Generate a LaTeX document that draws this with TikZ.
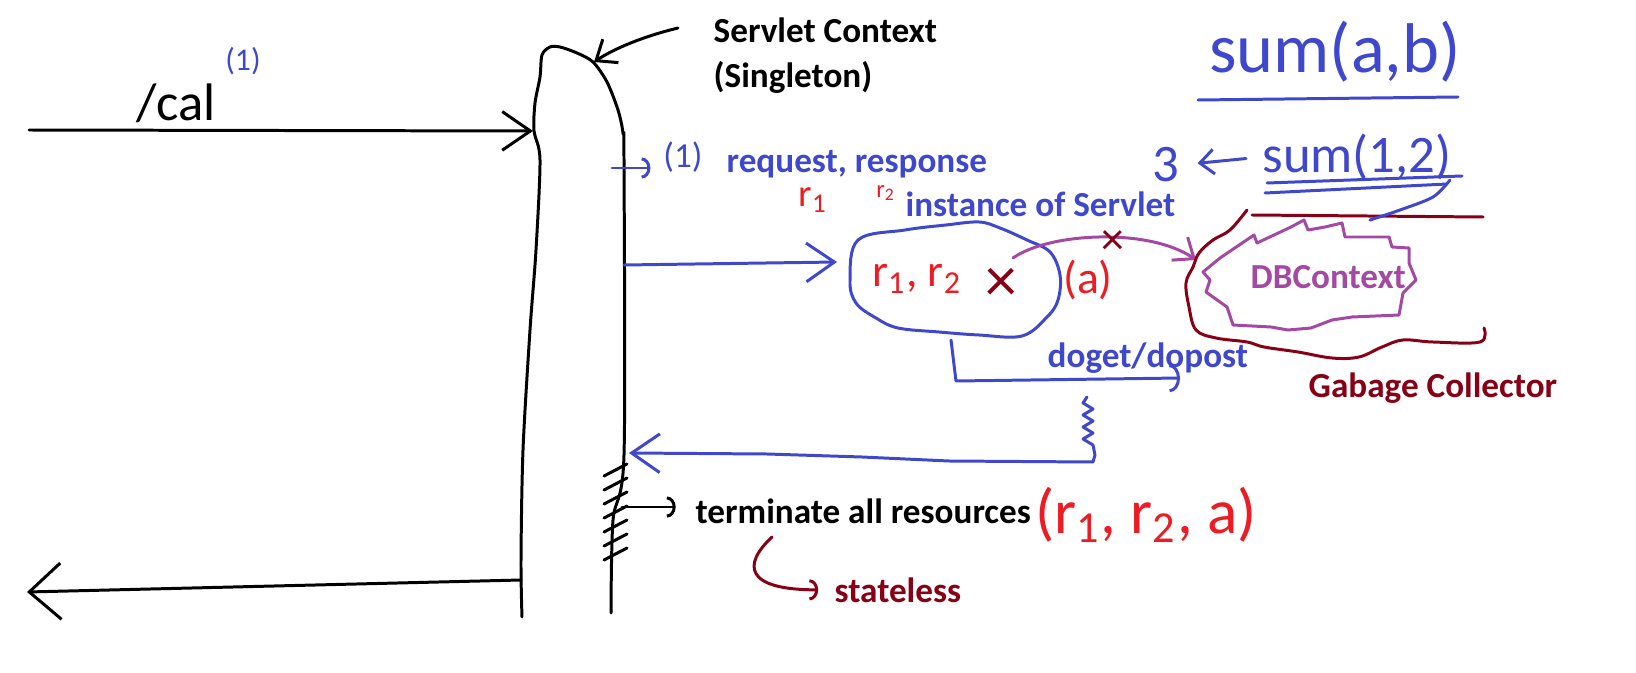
\documentclass[tikz,border=0pt]{standalone}
\usepackage{fontspec}
\setmainfont{Carlito}
\usetikzlibrary{arrows.meta, positioning}
\definecolor{inkblue}{HTML}{3F48CC}
\definecolor{inkred}{HTML}{ED1C24}
\definecolor{inkdark}{HTML}{880015}
\definecolor{inkpurple}{HTML}{A349A4}
\tikzset{
    typed text/.style={font=\fontsize{10}{12}\selectfont\bfseries, inner sep=0pt},
    hand text/.style={font=\fontsize{#1}{#1}\selectfont, inner sep=0pt},
    hand text/.default=14,
    pen/.style={line width=0.85pt, line cap=round, line join=round},
    barb/.style={-{Straight Barb[length=8pt,width=11pt]}},
    small barb/.style={-{Straight Barb[length=5pt,width=8pt]}},
    hook/.style={-{Arc Barb[length=2.5pt,width=6pt]}},
}
\newcommand{\drawcontext}{
    \draw[pen] plot[smooth, tension=0.5] coordinates {(522,617) (521,560) (523,450) (530,330) (536,250) (540,160) (534,131) (535,103) (540,77) (542,55) (550,47) (560,47) (577,53) (593,62) (607,82) (618,110) (623,133) (624,160) (624,455) (613,520) (611,613)};
}
\newcommand{\drawhatches}{
    \foreach \y in {470,484,498,512,526,540,554} {
        \draw[pen] (604,{\y+6}) -- (627,{\y-6});
    }
}

\begin{document}
\begin{tikzpicture}[x=0.01cm, y=-0.01cm]
    \useasboundingbox (0,0) rectangle (1636,673);
    \drawcontext
    \drawhatches
    \coordinate (ctx in) at (533,131);
    \coordinate (ctx top) at (594,62);
    \coordinate (ctx out) at (521,580);
    \coordinate (ctx call) at (612,168);
    \coordinate (ctx req) at (624,265);
    \coordinate (ctx back) at (629,453);
    \coordinate (ctx end) at (622,507);
    \coordinate (client in) at (29,130);
    \coordinate (client out) at (27,592);
    \coordinate (title tail) at (678,28);

    % client side
    \draw[pen, barb] (client in) -- (ctx in);
    \draw[pen, -{Straight Barb[length=9pt,width=16pt]}] (ctx out) -- (client out);
    \node[hand text=15, anchor=base west] (cal) at (136,121) {/cal};
    \node[hand text=9, text=inkblue] (cal num) at (243,61) {(1)};

    \node[typed text, anchor=base west] (ctx title) at (713,43) {Servlet Context};
    \node[typed text, anchor=base west] (ctx kind) at (713,88) {(Singleton)};
    \draw[pen, small barb] (title tail) .. controls (645,36) and (615,48) .. (ctx top);

    % request
    \node[hand text=10, text=inkblue] (call num) at (683,157) {(1)};
    \draw[pen, inkblue, hook, shorten >=3.5pt] (ctx call) -- (ctx call -| call num.west);
    \node[typed text, text=inkblue, anchor=base west] (reqres) at (726,173) {request, response};
    \node[hand text=11, text=inkred] (r one) at (813,200) {r\textsubscript{1}};
    \node[hand text=7, text=inkred] (r two) at (886,193) {r\textsubscript{2}};
    \node[typed text, text=inkblue, anchor=base west] (inst title) at (905,217) {instance of Servlet};

    % servlet instance
    \draw[pen, inkblue] plot[smooth cycle, tension=0.6] coordinates {(858,240) (905,230) (946,225) (979,222) (1000,228) (1027,240) (1050,252) (1060,275) (1058,300) (1047,317) (1022,336) (979,335) (939,332) (898,328) (876,318) (856,303) (850,280)};
    \coordinate (inst in) at (837,262);
    \draw[pen, inkblue, barb] (ctx req) -- (inst in);
    \node[hand text=13, text=inkred] (inst vars) at (917,279) {r\textsubscript{1}, r\textsubscript{2}};
    \node[hand text=18, text=inkdark] (inst cross) at (1001,285) {×};

    % db context
    \draw[pen, inkpurple] (1220,258) -- (1254,235) -- (1257,243) -- (1291,227) -- (1304,220) -- (1308,230) -- (1325,227) -- (1342,223) -- (1345,237) -- (1389,237) -- (1392,247) -- (1409,248) -- (1409,263) -- (1416,280) -- (1403,293) -- (1399,315) -- (1352,317) -- (1332,320) -- (1311,328) -- (1288,330) -- (1271,327) -- (1233,325) -- (1227,307) -- (1206,292) -- (1210,280) -- (1203,272) -- cycle;
    \node[typed text, text=inkpurple, anchor=base west] (db) at (1250,288) {DBContext};
    \coordinate (inst db) at (1013,258);
    \coordinate (db in) at (1196,260);
    \draw[pen, inkpurple, small barb] (inst db) .. controls (1050,232) and (1150,228) .. (db in);
    \node[hand text=13, text=inkred] (db ref) at (1088,280) {(a)};
    \node[hand text=13, text=inkdark] (db cross) at (1113,243) {×};

    % garbage collector
    \draw[pen, inkdark] plot[smooth, tension=0.6] coordinates {(1247,210) (1230,230) (1213,240) (1199,253) (1193,267) (1186,283) (1189,307) (1196,330) (1216,338) (1247,342) (1264,347) (1298,352) (1332,358) (1359,357) (1382,347) (1403,340) (1433,342) (1480,342) (1484,328)};
    \draw[pen, inkdark] (1252,215) -- (1483,217);
    \node[typed text, text=inkdark, anchor=base west] (gc) at (1308,397) {Gabage Collector};

    % sum
    \node[hand text=20, text=inkblue] (sum ab) at (1335,52) {sum(a,b)};
    \draw[pen, inkblue] (1198,100) -- (1458,97);
    \node[hand text=15, text=inkblue] (sum val) at (1357,157) {sum(1,2)};
    \node[hand text=15, text=inkblue] (three) at (1166,165) {3};
    \draw[pen, inkblue, -{Straight Barb[length=4pt,width=7pt]}, shorten >=5pt, shorten <=4.5pt] (sum val.west) -- (three.east);
    \draw[pen, inkblue] (1267,183) -- (1462,176);
    \draw[pen, inkblue] (1265,193) -- (1447,184);
    \draw[pen, inkblue] plot[smooth] coordinates {(1450,180) (1433,197) (1400,210) (1370,220)};

    % doget / dopost
    \coordinate (inst out) at (951,340);
    \draw[pen, inkblue, -{Arc Barb[length=3pt,width=8pt]}] (inst out) -- (956,381) -- (1180,378);
    \node[typed text, text=inkblue, anchor=base west] (doget) at (1047,367) {doget/dopost};

    % response back
    \draw[pen, inkblue, barb] (1087,397) \foreach \k in {0,...,3} { -- (1083,{403+12*\k}) -- (1093,{409+12*\k}) } -- (1095,455) -- (1093,462) -- (949,461) -- (862,457) -- (767,454) -- (ctx back);

    % terminate
    \node[typed text, anchor=base west] (term) at (695,523) {terminate all resources};
    \draw[pen, hook, shorten >=5.5pt] (ctx end) -- (ctx end -| term.west);
    \node[hand text=18, text=inkred] (term list) at (1146,515) {(r\textsubscript{1}, r\textsubscript{2}, a)};
    \coordinate (sl from) at (772,537);
    \node[typed text, text=inkdark, anchor=base west] (sl) at (834,602) {stateless};
    \draw[pen, inkdark, hook, shorten >=4.5pt] (sl from) .. controls (742,565) and (745,590) .. (sl.west);
\end{tikzpicture}
\end{document}
